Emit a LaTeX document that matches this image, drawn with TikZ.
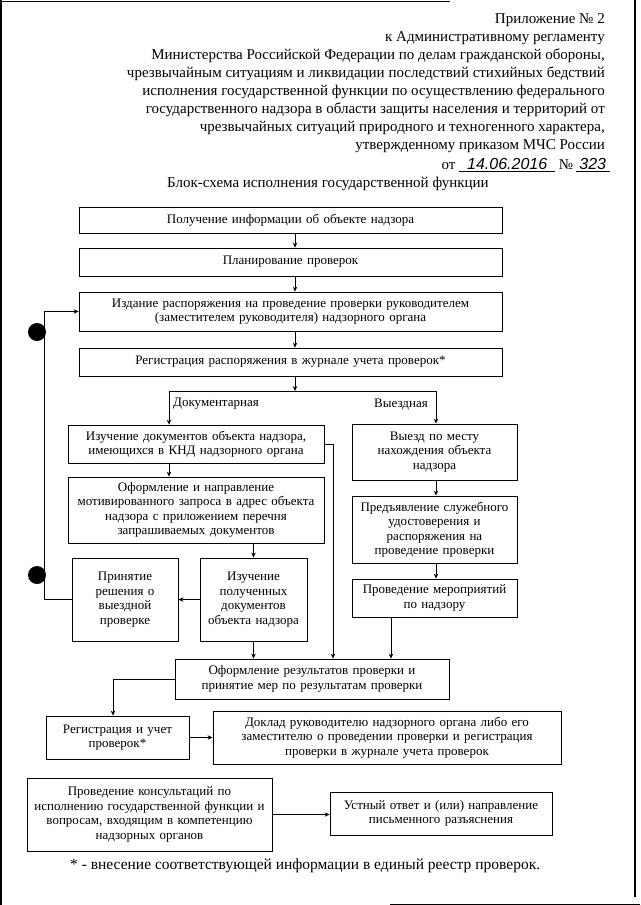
\documentclass[tikz,border=0pt]{standalone}
\usepackage{fontspec}
\setmainfont{Liberation Serif}
\newfontfamily\handfont{Liberation Sans}
\usetikzlibrary{arrows.meta, calc}

\begin{document}
\begin{tikzpicture}[x=1pt, y=-1pt,
  blk/.style={draw, line width=0.8pt, align=center, inner xsep=3pt, inner ysep=1pt,
    font=\fontsize{13}{14.5}\selectfont},
  arr/.style={line width=0.8pt, -{Stealth[length=5pt, width=4.5pt]}},
  lnk/.style={line width=0.8pt},
  hdr/.style={align=right, inner sep=0pt, font=\fontsize{15}{18}\selectfont}]
\useasboundingbox (0,0) rectangle (640,905);
\draw[line width=1.2pt] (1,0) -- (1,905);
\draw[line width=1.2pt] (635,0) -- (635,897);
\draw[line width=1pt] (0,1) -- (450,1);
\draw[line width=1pt] (390,904) -- (640,904);
\node[hdr, anchor=north east] (head) at (605,13) {Приложение № 2\\
к Административному регламенту\\
Министерства Российской Федерации по делам гражданской обороны,\\
чрезвычайным ситуациям и ликвидации последствий стихийных бедствий\\
исполнения государственной функции по осуществлению федерального\\
государственного надзора в области защиты населения и территорий от\\
чрезвычайных ситуаций природного и техногенного характера,\\
утвержденному приказом МЧС России};
\node[hdr, anchor=north east] (date) at (610,158) {от \underline{\makebox[96pt]{\handfont\itshape\fontsize{16}{16}\selectfont 14.06.2016}}
№\,\underline{\makebox[34pt]{\handfont\itshape\fontsize{16}{16}\selectfont 323}}};
\node[hdr, anchor=center] (title) at (328,184) {Блок-схема исполнения государственной функции};
\node[blk, text width=417pt, minimum height=26pt] (b1) at (290.5,220) {Получение информации об объекте надзора};
\node[blk, text width=417pt, minimum height=28pt] (b2) at (290.5,262) {Планирование проверок};
\node[blk, text width=417pt, minimum height=39pt] (b3) at (290.5,311.5) {Издание распоряжения на проведение проверки руководителем\\(заместителем руководителя) надзорного органа};
\node[blk, text width=417pt, minimum height=28pt] (b4) at (290.5,362) {Регистрация распоряжения в журнале учета проверок*};
\node[blk, text width=250pt, minimum height=38pt] (d1) at (196,444) {Изучение документов объекта надзора,\\имеющихся в КНД надзорного органа};
\node[blk, text width=250pt, minimum height=66pt] (d2) at (196,510) {Оформление и направление\\мотивированного запроса в адрес объекта\\надзора с приложением перечня\\запрашиваемых документов};
\node[blk, text width=101pt, minimum height=83pt] (d3) at (253.5,599.5) {Изучение\\полученных\\документов\\объекта надзора};
\node[blk, text width=100pt, minimum height=83pt] (d4) at (125,599.5) {Принятие\\решения о\\выездной\\проверке};
\node[blk, text width=159pt, minimum height=56pt] (v1) at (434.5,452) {Выезд по месту\\нахождения объекта\\надзора};
\node[blk, text width=159pt, minimum height=67pt] (v2) at (434.5,529.5) {Предъявление служебного\\удостоверения и\\распоряжения на\\проведение проверки};
\node[blk, text width=159pt, minimum height=38pt] (v3) at (434.5,598) {Проведение мероприятий\\по надзору};
\node[blk, text width=268pt, minimum height=40pt] (res) at (312,679) {Оформление результатов проверки и\\принятие мер по результатам проверки};
\node[blk, text width=137pt, minimum height=43pt] (reg) at (117.5,737.5) {Регистрация и учет\\проверок*};
\node[blk, text width=342pt, minimum height=53pt] (rep) at (387,737.5) {Доклад руководителю надзорного органа либо его\\заместителю о проведении проверки и регистрация\\проверки в журнале учета проверок};
\node[blk, text width=239pt, minimum height=73pt] (cons) at (149.5,814.5) {Проведение консультаций по\\исполнению государственной функции и\\вопросам, входящим в компетенцию\\надзорных органов};
\node[blk, text width=216pt, minimum height=43pt] (ans) at (441,813.5) {Устный ответ и (или) направление\\письменного разъяснения};
\node[hdr, anchor=west, font=\fontsize{15.5}{18}\selectfont] (note) at (70,866) {* - внесение соответствующей информации в единый реестр проверок.};
\coordinate (ax) at (295,0);
\coordinate (dl) at (169,391);
\coordinate (vr) at (436,391);
\coordinate (lp) at (44,0);
\coordinate (rx) at (333,0);
\coordinate (vx) at (391,0);
\coordinate (gx) at (113,0);
\node[anchor=west, inner sep=0pt, font=\fontsize{13}{14.5}\selectfont] (doc) at (173,404) {Документарная};
\node[anchor=east, inner sep=0pt, font=\fontsize{13}{14.5}\selectfont] (vyez) at (428,404) {Выездная};
\fill (37,332) circle (9pt);
\fill (37,575) circle (9pt);
\draw[arr] (b1.south -| ax) -- (b2.north -| ax);
\draw[arr] (b2.south -| ax) -- (b3.north -| ax);
\draw[arr] (b3.south -| ax) -- (b4.north -| ax);
\draw[arr] (b4.south -| ax) -- (ax |- dl);
\draw[lnk] (dl) -- (vr);
\draw[arr] (dl) -- (dl |- d1.north);
\draw[arr] (vr) -- (vr |- v1.north);
\draw[arr] (dl |- d1.south) -- (dl |- d2.north);
\draw[arr] (d2.south -| d3.north) -- (d3.north);
\draw[arr] (d3.west) -- (d4.east);
\draw[arr] (d4.west) -- (d4.west -| lp) -- (b3.west -| lp) -- (b3.west);
\draw[arr] (d1.east) -- (d1.east -| rx) -- (rx |- res.north);
\draw[arr] (d3.south) -- (d3.south |- res.north);
\draw[arr] (vr |- v1.south) -- (vr |- v2.north);
\draw[arr] (vr |- v2.south) -- (vr |- v3.north);
\draw[arr] (vx |- v3.south) -- (vx |- res.north);
\draw[arr] (res.west) -- (res.west -| gx) -- (gx |- reg.north);
\draw[arr] (reg.east) -- (rep.west);
\draw[arr] (cons.east) -- (cons.east -| ans.west);
\end{tikzpicture}
\end{document}
